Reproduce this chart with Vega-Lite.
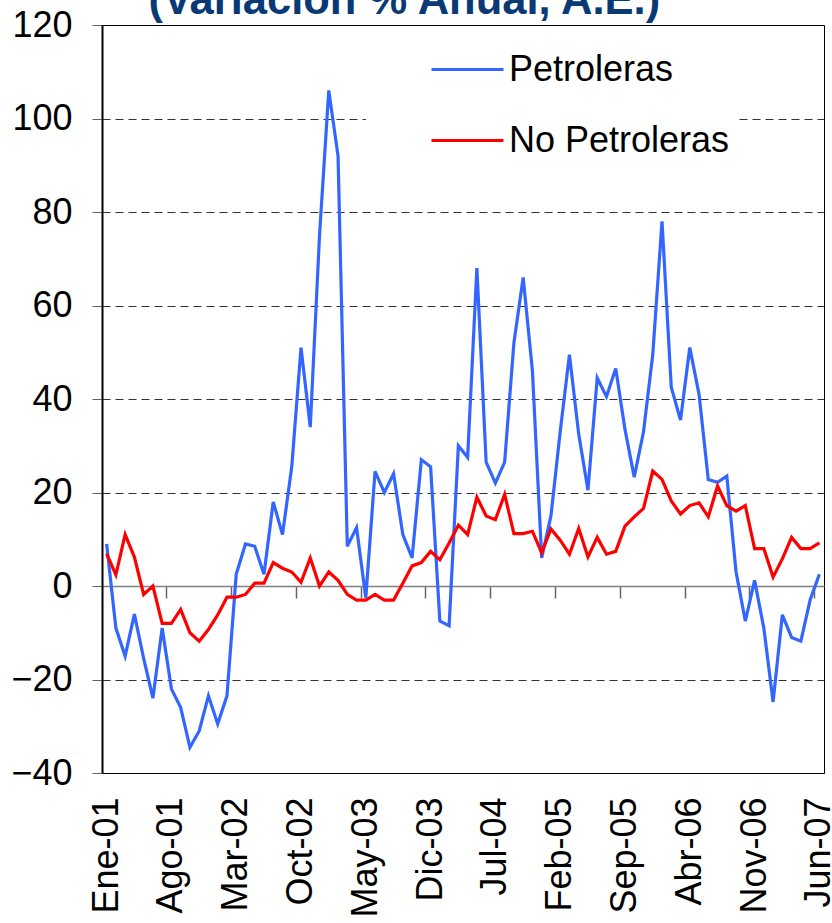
{
  "$schema": "https://vega.github.io/schema/vega-lite/v6.json",
  "width": 722,
  "height": 748,
  "autosize": {"type": "none"},
  "padding": {"left": 102, "top": 25, "right": 8, "bottom": 150},
  "background": "white",
  "config": {
    "font": "Liberation Sans",
    "view": {"stroke": "#000000", "strokeWidth": 1}
  },
  "data": {
    "values": [
      {"m": "Ene-01", "Petroleras": 9, "No Petroleras": 6.9},
      {"m": "Feb-01", "Petroleras": -9, "No Petroleras": 2.4},
      {"m": "Mar-01", "Petroleras": -15, "No Petroleras": 11},
      {"m": "Abr-01", "Petroleras": -6, "No Petroleras": 6.2},
      {"m": "May-01", "Petroleras": -15.5, "No Petroleras": -1.8},
      {"m": "Jun-01", "Petroleras": -24, "No Petroleras": 0},
      {"m": "Jul-01", "Petroleras": -9, "No Petroleras": -8},
      {"m": "Ago-01", "Petroleras": -22, "No Petroleras": -8},
      {"m": "Sep-01", "Petroleras": -26, "No Petroleras": -5},
      {"m": "Oct-01", "Petroleras": -34.5, "No Petroleras": -10},
      {"m": "Nov-01", "Petroleras": -31, "No Petroleras": -11.8},
      {"m": "Dic-01", "Petroleras": -23.5, "No Petroleras": -9.3},
      {"m": "Ene-02", "Petroleras": -29.5, "No Petroleras": -6.2},
      {"m": "Feb-02", "Petroleras": -23.5, "No Petroleras": -2.4},
      {"m": "Mar-02", "Petroleras": 2.5, "No Petroleras": -2.4},
      {"m": "Abr-02", "Petroleras": 9, "No Petroleras": -1.8},
      {"m": "May-02", "Petroleras": 8.5, "No Petroleras": 0.6},
      {"m": "Jun-02", "Petroleras": 2.5, "No Petroleras": 0.6},
      {"m": "Jul-02", "Petroleras": 18, "No Petroleras": 5},
      {"m": "Ago-02", "Petroleras": 11, "No Petroleras": 3.8},
      {"m": "Sep-02", "Petroleras": 25.5, "No Petroleras": 3},
      {"m": "Oct-02", "Petroleras": 51, "No Petroleras": 0.8},
      {"m": "Nov-02", "Petroleras": 34, "No Petroleras": 6},
      {"m": "Dic-02", "Petroleras": 75, "No Petroleras": 0},
      {"m": "Ene-03", "Petroleras": 106, "No Petroleras": 3},
      {"m": "Feb-03", "Petroleras": 92, "No Petroleras": 1.2},
      {"m": "Mar-03", "Petroleras": 8.5, "No Petroleras": -1.8},
      {"m": "Abr-03", "Petroleras": 12.5, "No Petroleras": -3},
      {"m": "May-03", "Petroleras": -2.5, "No Petroleras": -3},
      {"m": "Jun-03", "Petroleras": 24.5, "No Petroleras": -1.8},
      {"m": "Jul-03", "Petroleras": 20, "No Petroleras": -3},
      {"m": "Ago-03", "Petroleras": 24, "No Petroleras": -3},
      {"m": "Sep-03", "Petroleras": 11, "No Petroleras": 0.6},
      {"m": "Oct-03", "Petroleras": 6, "No Petroleras": 4.3},
      {"m": "Nov-03", "Petroleras": 27, "No Petroleras": 5},
      {"m": "Dic-03", "Petroleras": 25.5, "No Petroleras": 7.4},
      {"m": "Ene-04", "Petroleras": -7.5, "No Petroleras": 5.6},
      {"m": "Feb-04", "Petroleras": -8.5, "No Petroleras": 9.2},
      {"m": "Mar-04", "Petroleras": 30, "No Petroleras": 13},
      {"m": "Abr-04", "Petroleras": 27.5, "No Petroleras": 11},
      {"m": "May-04", "Petroleras": 68, "No Petroleras": 19},
      {"m": "Jun-04", "Petroleras": 26.5, "No Petroleras": 15},
      {"m": "Jul-04", "Petroleras": 22, "No Petroleras": 14.2},
      {"m": "Ago-04", "Petroleras": 26.5, "No Petroleras": 19.6},
      {"m": "Sep-04", "Petroleras": 52, "No Petroleras": 11.2},
      {"m": "Oct-04", "Petroleras": 66, "No Petroleras": 11.2},
      {"m": "Nov-04", "Petroleras": 46, "No Petroleras": 11.7},
      {"m": "Dic-04", "Petroleras": 6, "No Petroleras": 7.1},
      {"m": "Ene-05", "Petroleras": 15, "No Petroleras": 12.2},
      {"m": "Feb-05", "Petroleras": 33, "No Petroleras": 9.8},
      {"m": "Mar-05", "Petroleras": 49.5, "No Petroleras": 6.8},
      {"m": "Abr-05", "Petroleras": 32.5, "No Petroleras": 12.3},
      {"m": "May-05", "Petroleras": 20.5, "No Petroleras": 6.2},
      {"m": "Jun-05", "Petroleras": 44.5, "No Petroleras": 10.4},
      {"m": "Jul-05", "Petroleras": 40.5, "No Petroleras": 6.8},
      {"m": "Ago-05", "Petroleras": 46.5, "No Petroleras": 7.4},
      {"m": "Sep-05", "Petroleras": 33.5, "No Petroleras": 12.8},
      {"m": "Oct-05", "Petroleras": 23.3, "No Petroleras": 14.8},
      {"m": "Nov-05", "Petroleras": 33, "No Petroleras": 16.6},
      {"m": "Dic-05", "Petroleras": 49.5, "No Petroleras": 24.6},
      {"m": "Ene-06", "Petroleras": 78, "No Petroleras": 22.8},
      {"m": "Feb-06", "Petroleras": 42.5, "No Petroleras": 18.2},
      {"m": "Mar-06", "Petroleras": 35.5, "No Petroleras": 15.4},
      {"m": "Abr-06", "Petroleras": 51, "No Petroleras": 17.2},
      {"m": "May-06", "Petroleras": 41, "No Petroleras": 17.8},
      {"m": "Jun-06", "Petroleras": 22.8, "No Petroleras": 14.8},
      {"m": "Jul-06", "Petroleras": 22.2, "No Petroleras": 21.4},
      {"m": "Ago-06", "Petroleras": 23.5, "No Petroleras": 17.2},
      {"m": "Sep-06", "Petroleras": 3, "No Petroleras": 16},
      {"m": "Oct-06", "Petroleras": -7.5, "No Petroleras": 17.2},
      {"m": "Nov-06", "Petroleras": 1.2, "No Petroleras": 8},
      {"m": "Dic-06", "Petroleras": -9, "No Petroleras": 8},
      {"m": "Ene-07", "Petroleras": -24.8, "No Petroleras": 1.9},
      {"m": "Feb-07", "Petroleras": -6.2, "No Petroleras": 5.8},
      {"m": "Mar-07", "Petroleras": -11, "No Petroleras": 10.4},
      {"m": "Abr-07", "Petroleras": -11.8, "No Petroleras": 8},
      {"m": "May-07", "Petroleras": -3, "No Petroleras": 8},
      {"m": "Jun-07", "Petroleras": 2.5, "No Petroleras": 9.2}
    ]
  },
  "transform": [{"fold": ["Petroleras", "No Petroleras"], "as": ["serie", "valor"]}],
  "encoding": {
    "y": {
      "field": "valor",
      "type": "quantitative",
      "scale": {"domain": [-40, 120], "nice": false, "zero": false},
      "axis": {
        "title": "(Variación % Anual, A.E.)",
        "titleAngle": 0,
        "titleX": 46,
        "titleY": -12,
        "titleAlign": "left",
        "titleBaseline": "alphabetic",
        "titleFont": "Liberation Sans",
        "titleFontSize": 43.5,
        "titleFontWeight": "bold",
        "titleColor": "#0a3a75",
        "values": [-40, -20, 0, 20, 40, 60, 80, 100, 120],
        "labelFont": "Liberation Sans",
        "labelFontSize": 36,
        "labelColor": "#000000",
        "labelPadding": 20,
        "tickSize": 10,
        "tickColor": "#666666",
        "domainColor": "#000000",
        "domainWidth": 2,
        "grid": true,
        "gridColor": "#333333",
        "gridDash": [8, 5],
        "gridOpacity": {"condition": {"test": "datum.value === 0 || datum.value === -40 || datum.value === 120", "value": 0}, "value": 1}
      }
    },
    "color": {
      "field": "serie",
      "type": "nominal",
      "scale": {"domain": ["Petroleras", "No Petroleras"], "range": ["#3366FF", "#FF0000"]},
      "legend": {
        "title": null,
        "orient": "none",
        "legendX": 264,
        "legendY": 2,
        "symbolType": "stroke",
        "symbolSize": 5184,
        "symbolStrokeWidth": 3,
        "symbolOffset": 59,
        "labelOffset": 4,
        "labelLimit": 600,
        "labelFont": "Liberation Sans",
        "labelFontSize": 36,
        "labelColor": "#000000",
        "rowPadding": 15,
        "padding": 5,
        "fillColor": "white"
      }
    }
  },
  "layer": [
    {
      "transform": [{"filter": "datum.serie === 'Petroleras'"}],
      "mark": {"type": "line", "strokeWidth": 3.2},
      "encoding": {
        "x": {
          "field": "m",
          "type": "ordinal",
          "sort": null,
          "scale": {"type": "band", "paddingInner": 0, "paddingOuter": 0},
          "axis": {
            "orient": "bottom",
            "title": null,
            "labelExpr": "indexof(['Ene-01','Ago-01','Mar-02','Oct-02','May-03','Dic-03','Jul-04','Feb-05','Sep-05','Abr-06','Nov-06','Jun-07'], datum.value) >= 0 ? datum.value : ''",
            "labelAngle": -90,
            "labelAlign": "right",
            "labelBaseline": "middle",
            "labelFont": "Liberation Sans",
            "labelFontSize": 36,
            "labelColor": "#000000",
            "labelPadding": 24,
            "labelOverlap": false,
            "labelFlush": false,
            "labelBound": false,
            "ticks": false,
            "domainColor": "#000000",
            "grid": false
          }
        }
      }
    },
    {
      "transform": [{"filter": "datum.serie === 'No Petroleras'"}],
      "mark": {"type": "line", "strokeWidth": 3.2},
      "encoding": {
        "x": {
          "field": "m",
          "type": "ordinal",
          "sort": null,
          "scale": {"type": "band", "paddingInner": 0, "paddingOuter": 0},
          "axis": {
            "orient": "bottom",
            "offset": -187,
            "title": null,
            "labels": false,
            "values": ["Ago-01", "Mar-02", "Oct-02", "May-03", "Dic-03", "Jul-04", "Feb-05", "Sep-05", "Abr-06", "Nov-06", "Jun-07"],
            "bandPosition": 0,
            "ticks": true,
            "tickSize": 12,
            "tickWidth": 1.5,
            "tickColor": "#666666",
            "domainColor": "#808080",
            "domainWidth": 1.5,
            "grid": false
          }
        }
      }
    }
  ],
  "resolve": {"axis": {"x": "independent"}}
}
